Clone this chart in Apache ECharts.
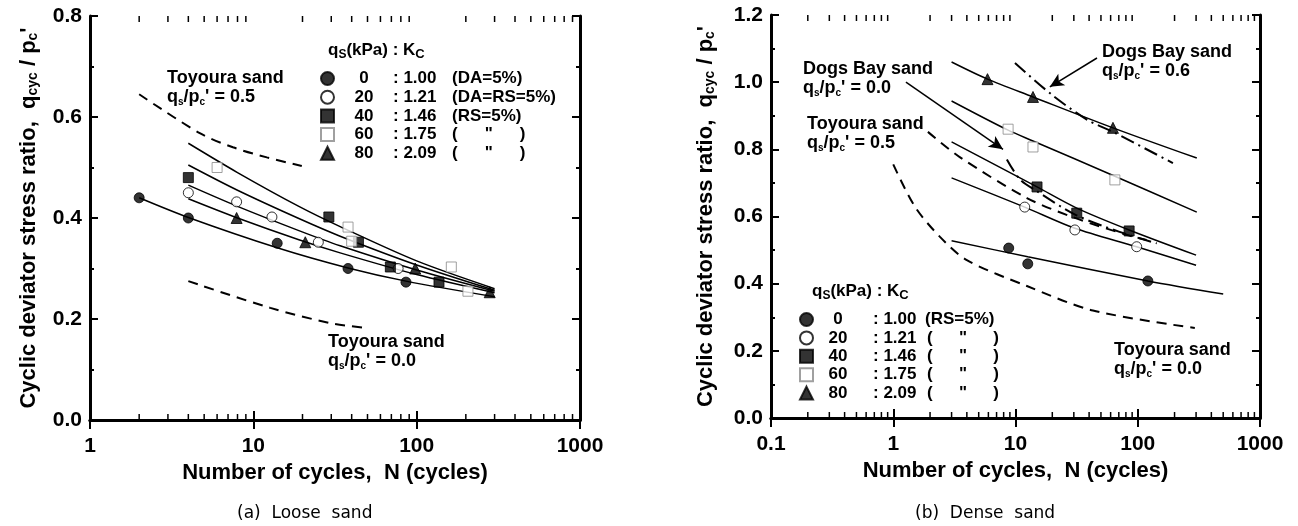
<!DOCTYPE html>
<html><head><meta charset="utf-8">
<script src="https://cdn.jsdelivr.net/npm/echarts@6/dist/echarts.min.js"></script>
<style>html,body{margin:0;padding:0;background:#fff}#c{width:1298px;height:526px}</style>
</head><body><div id="c"></div>
<script>
// ---------------- data ----------------
const qsValues = ['0', '20', '40', '60', '80'];
const kcValues = ['1.00', '1.21', '1.46', '1.75', '2.09'];
const looseNotes = ['(DA=5%)', '(DA=RS=5%)', '(RS=5%)', '"', '"'];
const denseNotes = ['(RS=5%)', '"', '"', '"', '"'];

const looseXTicks = [1, 10, 100, 1000];
const denseXTicks = [0.1, 1, 10, 100, 1000];

// (a) Loose sand — measured points
const loose0 = [[2, 0.44], [4, 0.40], [14, 0.35], [38, 0.30], [86, 0.273]];
const loose20 = [[4, 0.45], [7.9, 0.432], [13, 0.402], [25, 0.352], [77, 0.30]];
const loose40 = [[4, 0.48], [29, 0.402], [44, 0.352], [69, 0.303], [137, 0.273]];
const loose60 = [[6, 0.50], [38, 0.382], [40, 0.354], [163, 0.303], [206, 0.255]];
const loose80 = [[7.9, 0.40], [20.8, 0.352], [98, 0.30], [280, 0.253]];
// (a) fitted curves
const looseFit60 = [[4, 0.548], [8, 0.49], [19, 0.423], [34, 0.383], [100, 0.315], [300, 0.26]];
const looseFit40 = [[4, 0.505], [8, 0.455], [19, 0.399], [34, 0.364], [100, 0.307], [300, 0.257]];
const looseFit20 = [[4, 0.465], [8, 0.423], [19, 0.375], [34, 0.345], [100, 0.297], [300, 0.255]];
const looseFit80 = [[4, 0.438], [8, 0.400], [19, 0.357], [34, 0.331], [100, 0.288], [300, 0.252]];
const looseFit0 = [[2, 0.44], [4, 0.401], [14, 0.341], [38, 0.301], [86, 0.275], [300, 0.244]];
const looseToyoura05 = [[2, 0.645], [4.7, 0.568], [7.5, 0.54], [12.1, 0.52], [19.8, 0.503]];
const looseToyoura00 = [[4, 0.275], [12.7, 0.222], [29.5, 0.192], [50, 0.182]];

// (b) Dense sand — measured points
const dense0 = [[8.8, 0.506], [12.6, 0.459], [121, 0.408]];
const dense20 = [[11.9, 0.628], [30.6, 0.56], [98, 0.51]];
const dense40 = [[15, 0.688], [31.7, 0.61], [85, 0.557]];
const dense60 = [[8.7, 0.86], [13.9, 0.807], [65, 0.709]];
const dense80 = [[5.9, 1.009], [13.9, 0.956], [62.7, 0.864]];
// (b) fitted curves
const denseFit80 = [[3, 1.06], [5.9, 1.009], [13.9, 0.956], [62.7, 0.864], [304, 0.774]];
const denseFit60 = [[3, 0.944], [8.7, 0.857], [13.9, 0.825], [65, 0.72], [304, 0.613]];
const denseFit40 = [[3, 0.822], [15, 0.688], [31.7, 0.625], [85, 0.56], [300, 0.485]];
const denseFit20 = [[3, 0.715], [11.9, 0.628], [30.6, 0.565], [98, 0.51], [300, 0.455]];
const denseFit0 = [[3, 0.528], [12.6, 0.48], [121, 0.408], [500, 0.369]];
const denseToyoura05 = [[1.92, 0.852], [3.5, 0.777], [12.4, 0.655], [31, 0.595], [82, 0.545], [118, 0.53]];
const denseToyoura00 = [[1.0, 0.755], [1.5, 0.63], [2.4, 0.54], [4, 0.47], [12.4, 0.393], [43, 0.32], [293, 0.268]];
const denseDogs06 = [[9.9, 1.057], [19.9, 0.962], [39, 0.887], [62.6, 0.852], [194, 0.759]];
const denseDogs00 = [[8.5, 0.77], [10.9, 0.71], [15, 0.675], [31, 0.605], [70, 0.555], [143, 0.52]];
const denseArrowDogs00 = [[1.27, 1.0], [7.9, 0.80]];
const denseArrowDogs06 = [[46.4, 1.072], [19.1, 0.986]];

// ---------------- helpers ----------------
const FONT = 'Liberation Sans, Arial, sans-serif';
function minorTicks(ticks) {
  const out = [];
  for (let i = 0; i < ticks.length - 1; i++) for (let k = 2; k <= 9; k++) out.push(+(ticks[i] * k).toPrecision(6));
  return out;
}
const markerStyles = [
  { symbol: 'circle', symbolSize: 10, itemStyle: { color: '#000', borderColor: '#000', borderWidth: 1 } },
  { symbol: 'circle', symbolSize: 10, itemStyle: { color: '#fff', borderColor: '#000', borderWidth: 1 } },
  { symbol: 'rect', symbolSize: 10, itemStyle: { color: '#000', borderColor: '#000', borderWidth: 1 } },
  { symbol: 'rect', symbolSize: 10, itemStyle: { color: '#fff', borderColor: '#888', borderWidth: 1 } },
  { symbol: 'triangle', symbolSize: 11, itemStyle: { color: '#000', borderColor: '#000', borderWidth: 1 } }
];
function scatter(name, data, idx, gi) {
  return Object.assign({ type: 'scatter', name, data, xAxisIndex: gi * 2, yAxisIndex: gi * 2, z: 5 }, JSON.parse(JSON.stringify(markerStyles[idx])));
}
function curve(data, gi, type, width) {
  return { type: 'line', data, xAxisIndex: gi * 2, yAxisIndex: gi * 2, smooth: 0.3, showSymbol: false, symbol: 'none', silent: true,
    lineStyle: { color: '#000', width: width || 1.5, type: type || 'solid' }, z: 3 };
}
function tickSeries(vals, gi, ymin, ymax) {
  const data = [];
  vals.forEach(v => { data.push([v, ymin, -1]); data.push([v, ymax, 1]); });
  return { type: 'custom', xAxisIndex: gi * 2, yAxisIndex: gi * 2, silent: true, clip: false, z: 10,
    data,
    encode: { x: 0, y: 1 },
    renderItem: (params, api) => {
      const p = api.coord([api.value(0), api.value(1)]);
      const dir = api.value(2);
      return { type: 'line', shape: { x1: p[0], y1: p[1], x2: p[0], y2: p[1] + dir * 6 },
        style: { stroke: '#000', lineWidth: 1.5 } };
    } };
}
const subRich = {
  sb: { fontFamily: FONT, fontWeight: 'bold', fontSize: 14, verticalAlign: 'bottom', lineHeight: 14 },
};
function xAxes(gi, min, max, ticks) {
  const base = { type: 'log', logBase: 10, min, max, gridIndex: gi,
    axisLine: { show: true, lineStyle: { color: '#000', width: 3 } },
    axisTick: { show: true, inside: true, length: 9, lineStyle: { color: '#000', width: 2 } },
    splitLine: { show: false } };
  return [
    Object.assign({}, base, { position: 'bottom',
      axisLabel: { show: true, margin: 16, color: '#000', fontFamily: FONT, fontWeight: 'bold', fontSize: 21,
        formatter: v => (v < 1 ? v.toFixed(1) : String(Math.round(v))) },
      name: 'Number of cycles,  N (cycles)', nameLocation: 'middle', nameGap: 36,
      nameTextStyle: { color: '#000', fontFamily: FONT, fontWeight: 'bold', fontSize: 22 } }),
    Object.assign({}, base, { position: 'top', axisLabel: { show: false } })
  ];
}
function yAxes(gi, max, gap) {
  const base = { type: 'value', min: 0, max, interval: 0.2, gridIndex: gi,
    axisLine: { show: true, lineStyle: { color: '#000', width: 3 } },
    axisTick: { show: true, inside: true, length: 8, lineStyle: { color: '#000', width: 2 } },
    minorTick: { show: true, splitNumber: 2, length: 4, lineStyle: { color: '#000', width: 2 } },
    splitLine: { show: false } };
  return [
    Object.assign({}, base, { position: 'left',
      axisLabel: { show: true, margin: 8, color: '#000', fontFamily: FONT, fontWeight: 'bold', fontSize: 21, formatter: v => v.toFixed(1) },
      name: 'Cyclic deviator stress ratio,  q{sb|cyc} / p{sb|c}\'', nameLocation: 'middle', nameGap: gap, nameRotate: 90,
      nameTextStyle: { color: '#000', fontFamily: FONT, fontWeight: 'bold', fontSize: 22, rich: subRich } }),
    Object.assign({}, base, { position: 'right', axisLabel: { show: false } })
  ];
}
// rich-text columns (tokens with a width are centred in that width)
function legendFor(gi, names, notes, left, top, gap) {
  const L = { fontFamily: FONT, fontWeight: 'bold', fontSize: 17, lineHeight: 16 };
  const W = gi === 0 ? { n: 50, g1: 0, k: 51.5, g2: 11.5, q: 62 } : { n: 40, g1: 15, k: 0, g2: 8.5, g3: 10.5, q: 60.6 };
  return { show: true, orient: 'vertical', left, top, padding: 0, itemWidth: 13, itemHeight: 13, itemGap: gap, itemTextGap: 6,
    selectedMode: false,
    data: names.map((n, i) => ({ name: n, icon: markerStyles[i].symbol })),
    formatter: name => {
      const i = names.indexOf(name);
      const note = notes[i];
      let s = '{n|' + qsValues[i] + '}' + (W.g1 ? '{g1| }' : '') + '{k|: ' + kcValues[i] + '}';
      if (note === '"') s += (W.g3 ? '{g3| }' : '{g2| }') + '{p|(}{q|"}{r|)}';
      else s += '{g2| }{d|' + note + '}';
      return s;
    },
    textStyle: Object.assign({ color: '#000' }, L, {
      rich: {
        n: Object.assign({ width: W.n, align: 'center' }, L),
        g1: Object.assign({ width: W.g1 }, L),
        g2: Object.assign({ width: W.g2 }, L),
        g3: Object.assign({ width: W.g3 || 0 }, L),
        k: Object.assign(W.k ? { width: W.k, align: 'center' } : {}, L),
        d: Object.assign({}, L),
        p: Object.assign({}, L),
        q: Object.assign({ width: W.q, align: 'center' }, L),
        r: Object.assign({}, L)
      } }) };
}
const annRich = {
  t: { fontFamily: FONT, fontWeight: 'bold', fontSize: 18, lineHeight: 20, fill: '#000' },
  s: { fontFamily: FONT, fontWeight: 'bold', fontSize: 10, lineHeight: 10, verticalAlign: 'bottom', fill: '#000' }
};
function ann(x, y, line1, val) {
  return [
    { type: 'text', left: x, top: y - 10, style: { text: line1, fontFamily: FONT, fontWeight: 'bold', fontSize: 18, fill: '#000' } },
    { type: 'text', left: x, top: y + 9, style: { text: '{t|q}{s|s}{t|/p}{s|c}{t|\' = ' + val + '}', rich: annRich } }
  ];
}
function legendTitle(x, y) {
  return { type: 'text', left: x, top: y - 10, style: {
    text: '{t|q}{s|S}{t|(kPa) : K}{c|C}',
    rich: {
      t: { fontFamily: FONT, fontWeight: 'bold', fontSize: 17, lineHeight: 20, fill: '#000' },
      s: { fontFamily: FONT, fontWeight: 'bold', fontSize: 12, lineHeight: 12, verticalAlign: 'bottom', fill: '#000' },
      c: { fontFamily: FONT, fontWeight: 'bold', fontSize: 13, lineHeight: 17, verticalAlign: 'bottom', fill: '#000' }
    } } };
}

const looseNames = ['a0', 'a20', 'a40', 'a60', 'a80'];
const denseNames = ['b0', 'b20', 'b40', 'b60', 'b80'];
const looseSets = [loose0, loose20, loose40, loose60, loose80];
const denseSets = [dense0, dense20, dense40, dense60, dense80];

const series = [];
looseSets.forEach((d, i) => series.push(scatter(looseNames[i], d, i, 0)));
denseSets.forEach((d, i) => series.push(scatter(denseNames[i], d, i, 1)));
[looseFit60, looseFit40, looseFit20, looseFit80, looseFit0].forEach(d => series.push(curve(d, 0)));
series.push(curve(looseToyoura05, 0, [10, 7], 2));
series.push(curve(looseToyoura00, 0, [10, 7], 2));
[denseFit80, denseFit60, denseFit40, denseFit20, denseFit0].forEach(d => series.push(curve(d, 1)));
series.push(curve(denseToyoura05, 1, [10, 7], 2));
series.push(curve(denseToyoura00, 1, [10, 7], 2));
series.push(curve(denseDogs06, 1, [14, 5, 2, 5], 2));
series.push(curve(denseDogs00, 1, [14, 5, 2, 5], 2));
series.push({ type: 'line', data: [], xAxisIndex: 2, yAxisIndex: 2, silent: true,
  markLine: { silent: true, symbol: ['none', 'arrow'], symbolSize: [10, 14], label: { show: false },
    lineStyle: { color: '#000', width: 1.5, type: 'solid' },
    data: [denseArrowDogs00, denseArrowDogs06].map(a => [{ coord: a[0] }, { coord: a[1] }]) } });
series.push(tickSeries(minorTicks(looseXTicks), 0, 0, 0.8));
series.push(tickSeries(minorTicks(denseXTicks), 1, 0, 1.2));

const option = {
  animation: false,
  backgroundColor: '#fff',
  grid: [
    { left: 90, top: 16, width: 490, height: 404 },
    { left: 771, top: 15, width: 489, height: 403 }
  ],
  xAxis: [].concat(xAxes(0, 1, 1000, looseXTicks), xAxes(1, 0.1, 1000, denseXTicks)),
  yAxis: [].concat(yAxes(0, 0.8, 50), yAxes(1, 1.2, 54)),
  legend: [legendFor(0, looseNames, looseNotes, 320, 70, 1.7), legendFor(1, denseNames, denseNotes, 799, 311, 1.4)],
  graphic: [].concat(
    ann(167, 79, 'Toyoura sand', '0.5'),
    ann(328, 343, 'Toyoura sand', '0.0'),
    ann(803, 70, 'Dogs Bay sand', '0.0'),
    ann(807, 125, 'Toyoura sand', '0.5'),
    ann(1102, 53, 'Dogs Bay sand', '0.6'),
    ann(1114, 351, 'Toyoura sand', '0.0'),
    [legendTitle(328, 52), legendTitle(812, 293),
     { type: 'text', left: 237, top: 505, style: { text: '(a)  Loose  sand', fontFamily: 'DejaVu Sans, sans-serif', fontSize: 17, fill: '#000' } },
     { type: 'text', left: 915, top: 505, style: { text: '(b)  Dense  sand', fontFamily: 'DejaVu Sans, sans-serif', fontSize: 17, fill: '#000' } }]
  ),
  series
};
const chart = echarts.init(document.getElementById('c'), null, { renderer: 'canvas' });
chart.setOption(option);
</script></body></html>
